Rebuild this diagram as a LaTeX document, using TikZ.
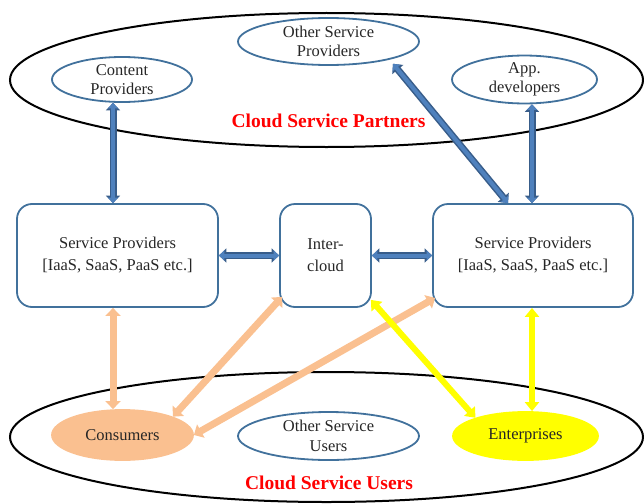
\documentclass[tikz,border=0pt]{standalone}
\usepackage{fontspec}
\setmainfont{Liberation Serif}
\usetikzlibrary{shapes.geometric,arrows.meta,calc}
\definecolor{bord}{HTML}{41719C}
\definecolor{blu}{HTML}{4F81BD}
\definecolor{dblu}{HTML}{385D8A}
\definecolor{peach}{HTML}{FAC090}
\definecolor{yel}{HTML}{FFFF00}
\begin{document}
\begin{tikzpicture}[x=1pt,y=-1pt,
  txt/.style={font=\fontsize{16.5}{19.5}\selectfont, align=center, text=black!85},
  sub/.style={ellipse, draw=bord, line width=1.8pt, minimum width=140pt, minimum height=45pt, inner sep=0pt, txt},
  big/.style={ellipse, draw=black, line width=2pt, minimum width=633pt},
  box/.style={draw=bord, line width=1.8pt, rounded corners=15pt, minimum height=103pt, align=center, text=black!85, font=\fontsize{16.5}{22}\selectfont},
  lab/.style={text=red, font=\bfseries\fontsize{19.5}{23}\selectfont},
  barrow/.style={line width=4pt, draw=blu, {Triangle[width=10pt,length=5.5pt]}-{Triangle[width=10pt,length=5.5pt]},
     preaction={draw=dblu, line width=7pt, {Triangle[width=14pt,length=7.5pt]}-{Triangle[width=14pt,length=7.5pt]}}},
  parrow/.style={line width=7pt, draw=peach, {Triangle[width=15pt,length=8pt]}-{Triangle[width=15pt,length=8pt]}},
  yarrow/.style={line width=6pt, draw=yel, {Triangle[width=14pt,length=9pt]}-{Triangle[width=14pt,length=9pt]}}
]
\useasboundingbox (0,0) rectangle (644,503);
\node[big, minimum height=134pt] (partners) at (326.5,80) {};
\node[big, minimum height=130pt] (users) at (326.5,437) {};
\node[lab] (plab) at (328.5,121) {Cloud Service Partners};
\node[lab] (ulab) at (329,483) {Cloud Service Users};
\node[sub, minimum width=181pt, minimum height=47pt] (osp) at (328.5,41.5) {Other Service\\Providers};
\node[sub] (cp) at (122,79.5) {Content\\Providers};
\node[sub, minimum width=145pt] (app) at (524.5,79.5) {App.\\developers};
\node[box, minimum width=201pt] (lsp) at (117.5,255.5) {Service Providers\\{[IaaS, SaaS, PaaS etc.]}};
\node[box, minimum width=91pt] (ic) at (325.5,255.5) {Inter-\\cloud};
\node[box, minimum width=200pt] (rsp) at (533,255.5) {Service Providers\\{[IaaS, SaaS, PaaS etc.]}};
\node[sub, fill=peach, draw=peach, minimum width=141pt, minimum height=50pt] (cons) at (122.5,435) {Consumers};
\node[sub, minimum width=181pt, minimum height=48pt] (osu) at (328.5,436) {Other Service\\Users};
\node[sub, fill=yel, draw=yel, minimum width=145pt, minimum height=48pt] (ent) at (525.5,436) {Enterprises};
% blue arrows
\draw[barrow] ($(cp.south)+(-9,0)$) -- ($(lsp.north)+(-4.5,0)$);
\draw[barrow] ($(app.south)+(7.5,0)$) -- ($(rsp.north)+(-1,0)$);
\draw[barrow] ($(osp.-15)+(0,5)$) -- ($(rsp.north)+(-25,0)$);
\draw[barrow] (lsp.east) -- (ic.west);
\draw[barrow] (ic.east) -- (rsp.west);
% peach arrows
\draw[parrow] ($(lsp.south)+(-4.5,0)$) -- ($(cons.north)+(-9.5,0)$);
\draw[parrow] ($(ic.south west)+(3,-11)$) -- (cons.20);
\draw[parrow] ($(rsp.south west)+(3,-10)$) -- (cons.east);
% yellow arrows
\draw[yarrow] ($(ic.south east)+(-1,-8)$) -- (ent.160);
\draw[yarrow] ($(rsp.south)+(-1,0)$) -- ($(ent.north)+(6.5,0)$);
\end{tikzpicture}
\end{document}
